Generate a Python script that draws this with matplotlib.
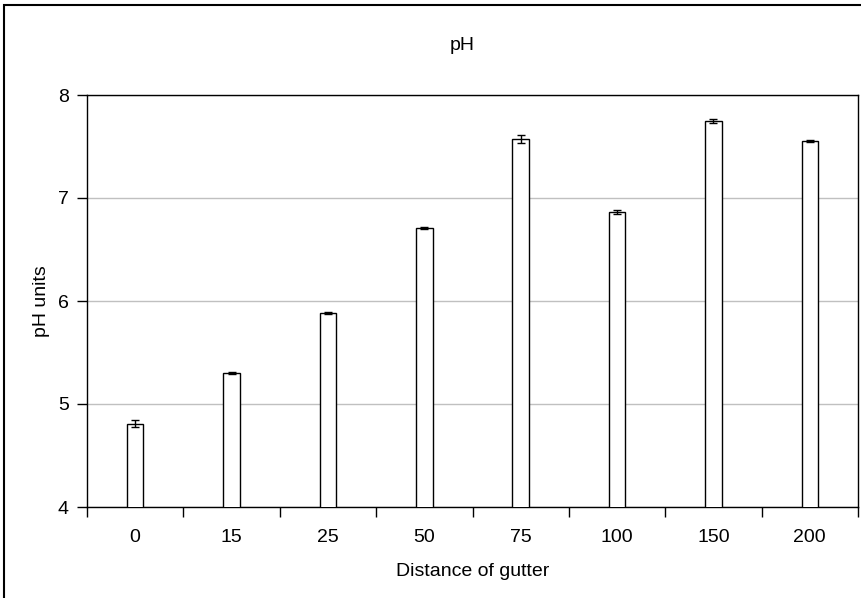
"""Bar chart of pH by distance of gutter, Excel-style."""

import numpy as np
import matplotlib
matplotlib.use("Agg")
import matplotlib.pyplot as plt
from matplotlib.patches import Rectangle

plt.rcParams["font.family"] = ["Liberation Sans", "DejaVu Sans"]

# ---------------------------------------------------------------------------
# Data
# ---------------------------------------------------------------------------

DISTANCES = ["0", "15", "25", "50", "75", "100", "150", "200"]
PH_MEANS = [4.81, 5.30, 5.88, 6.71, 7.57, 6.86, 7.75, 7.55]
PH_ERRORS = [0.03, 0.01, 0.01, 0.01, 0.04, 0.02, 0.02, 0.01]

W, H = 861, 598
DPI = 100

fig = plt.figure(figsize=(W / DPI, H / DPI), dpi=DPI)
fig.patch.set_facecolor("white")

# outer chart border (Excel chart area), cut at right/bottom
fig.add_artist(Rectangle((4 / W, -0.1), 2.0, 1.1 - 5 / H, transform=fig.transFigure,
                         fill=False, edgecolor="black", linewidth=1.5))

ax = fig.add_axes([87 / W, 1 - 507 / H, (858 - 87) / W, (507 - 95) / H])

x = np.arange(len(DISTANCES))
ax.bar(x, PH_MEANS, width=0.17, bottom=0, color="white", edgecolor="black",
       linewidth=1.0, zorder=3)
ax.errorbar(x, PH_MEANS, yerr=PH_ERRORS, fmt="none", ecolor="black",
            elinewidth=1.0, capsize=3, capthick=1.0, zorder=4)

ax.set_xlim(-0.5, len(DISTANCES) - 0.5)
ax.set_ylim(4, 8)
ax.set_yticks([4, 5, 6, 7, 8])
ax.set_xticks(x)
ax.set_xticklabels(DISTANCES)
ax.set_xticks(np.arange(-0.5, len(DISTANCES)), minor=True)

ax.tick_params(axis="x", which="major", length=0, pad=16, labelsize=14)
ax.tick_params(axis="x", which="minor", length=7, width=1, direction="out")
ax.tick_params(axis="y", length=7, width=1, direction="out", pad=6, labelsize=14)

ax.grid(axis="y", color="#c0c0c0", linewidth=1.0, zorder=0)
for spine in ax.spines.values():
    spine.set_color("black")
    spine.set_linewidth(1.0)

ax.set_xlabel("Distance of gutter", fontsize=14, labelpad=12)
ax.set_ylabel("pH units", fontsize=14, labelpad=6)
fig.text(462 / W, 1 - 45 / H, "pH", ha="center", va="center", fontsize=14)

fig.savefig("out.png", dpi=DPI, facecolor="white")
